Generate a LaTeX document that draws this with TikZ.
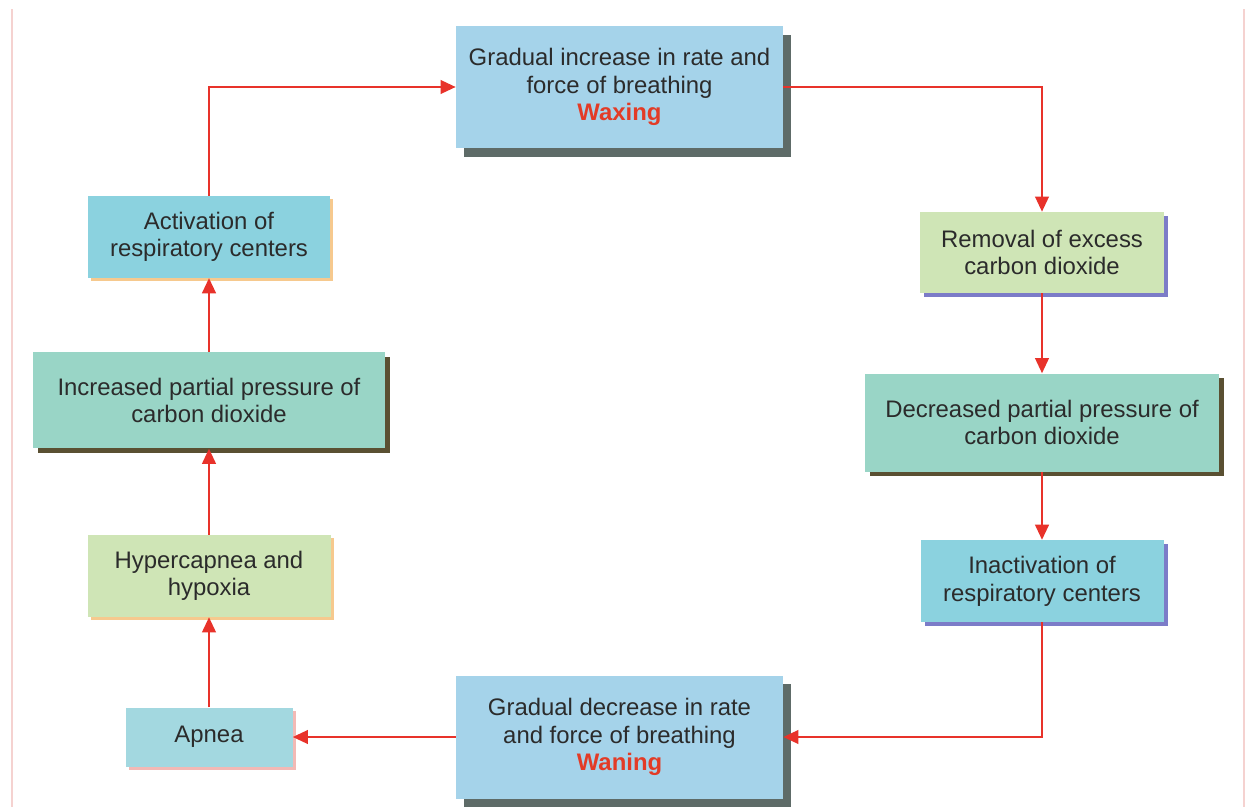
\documentclass[tikz,border=0pt]{standalone}
\usepackage{fontspec}
\setmainfont{Liberation Sans}
\usetikzlibrary{shapes,arrows.meta,positioning,calc,shadows}

\definecolor{txtgray}{HTML}{2B2B2B}
\definecolor{arrred}{HTML}{E8322A}
\definecolor{wavered}{HTML}{E33B26}
\definecolor{fillsky}{HTML}{A5D3EA}
\definecolor{fillcyan}{HTML}{8BD2DF}
\definecolor{fillapnea}{HTML}{A3D8E0}
\definecolor{fillmint}{HTML}{99D5C6}
\definecolor{filllime}{HTML}{CFE5B6}
\definecolor{shgray}{HTML}{5E6B68}
\definecolor{sholive}{HTML}{5A5032}
\definecolor{shblue}{HTML}{7C7CC8}
\definecolor{shorange}{HTML}{F6C98E}
\definecolor{shpink}{HTML}{F2B9B5}
\definecolor{edgepink}{HTML}{F5D2D0}

\begin{document}
\begin{tikzpicture}[
    node distance=2.0cm,
    box/.style={rectangle, inner sep=0pt, align=center, text=txtgray,
                font=\fontsize{17}{19.5}\selectfont},
    phase/.style={box, fill=fillsky, minimum width=8.175cm, minimum height=3.05cm,
                  drop shadow={shadow xshift=0.2cm, shadow yshift=-0.22cm, fill=shgray, opacity=1}},
    deep/.style={box, fill=fillmint, minimum height=2.4cm,
                 drop shadow={shadow xshift=0.12cm, shadow yshift=-0.12cm, fill=sholive, opacity=1}},
    centre/.style={box, fill=fillcyan, minimum width=6.075cm, minimum height=2.05cm},
    light/.style={box, fill=filllime, minimum height=2.05cm},
    blueshade/.style={drop shadow={shadow xshift=0.1cm, shadow yshift=-0.1cm, fill=shblue, opacity=1}},
    warmshade/.style={drop shadow={shadow xshift=0.08cm, shadow yshift=-0.08cm, fill=shorange, opacity=1}},
    arrow/.style={-{Triangle[length=0.38cm,width=0.34cm]}, line width=1.7pt, draw=arrred},
    wave/.style={text=wavered, font=\fontsize{17}{19.5}\selectfont\bfseries}
]

\useasboundingbox[fill=white] (0,0) rectangle (31.175,-20.175);

%% ── Page edges ───────────────────────────────────────────────────
\draw[edgepink, line width=0.8pt] (0.3,-0.225) -- (0.3,-20.175);
\draw[edgepink, line width=0.8pt] (31.1,-0.225) -- (31.1,-20.175);

%% ── Top and bottom: waxing / waning ──────────────────────────────
\node[phase] (wax) at (15.4875,-2.175)
    {Gradual increase in rate and\\force of breathing\\{\usefont{TU}{\rmdefault}{b}{n}\color{wavered}Waxing}};
\node[phase, minimum height=3.075cm] (wan) at (15.4875,-18.425)
    {Gradual decrease in rate\\and force of breathing\\{\usefont{TU}{\rmdefault}{b}{n}\color{wavered}Waning}};

%% ── Right column: going down ─────────────────────────────────────
\node[light, blueshade, minimum width=6.1cm, minimum height=2.025cm] (remove) at (26.05,-6.3125)
    {Removal of excess\\carbon dioxide};
\node[deep, minimum width=8.85cm, minimum height=2.45cm, below=2.0cm of remove] (decr)
    {Decreased partial pressure of\\carbon dioxide};
\node[centre, blueshade, below=1.7cm of decr] (inact)
    {Inactivation of\\respiratory centers};

%% ── Left column: going up ────────────────────────────────────────
\node[box, fill=fillapnea, minimum width=4.175cm, minimum height=1.475cm,
      drop shadow={shadow xshift=0.08cm, shadow yshift=-0.08cm, fill=shpink, opacity=1}]
    (apnea) at (5.225,-18.425) {Apnea};
\node[light, warmshade, minimum width=6.075cm, above=2.25cm of apnea] (hyper)
    {Hypercapnea and\\hypoxia};
\node[deep, minimum width=8.8cm, above=2.15cm of hyper] (incr)
    {Increased partial pressure of\\carbon dioxide};
\node[centre, warmshade, minimum width=6.05cm, above=1.85cm of incr] (act)
    {Activation of\\respiratory centers};

%% ── Arrows round the cycle ───────────────────────────────────────
\draw[arrow] (wax.east)    -| (remove.north);
\draw[arrow] (remove)      -- (decr);
\draw[arrow] (decr)        -- (inact);
\draw[arrow] (inact.south) |- (wan.east);
\draw[arrow] (wan.west)    -- (apnea.east);
\draw[arrow] (apnea)       -- (hyper);
\draw[arrow] (hyper)       -- (incr);
\draw[arrow] (incr)        -- (act);
\draw[arrow] (act.north)   |- (wax.west);

\end{tikzpicture}
\end{document}
